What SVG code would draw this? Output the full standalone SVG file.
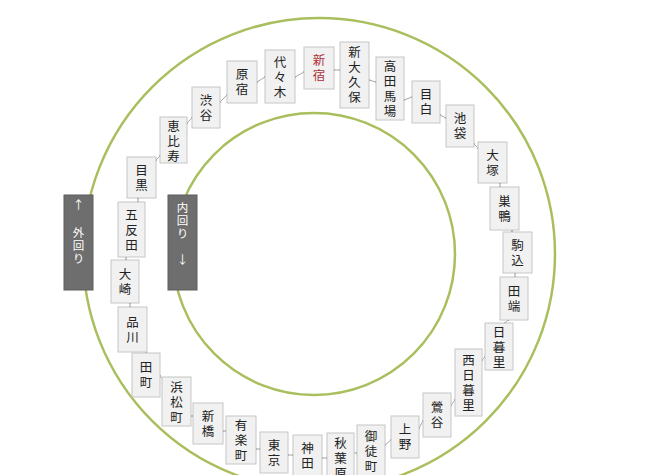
<svg xmlns="http://www.w3.org/2000/svg" width="647" height="475" viewBox="0 0 647 475">
<defs>
<marker id="dot" viewBox="0 0 4 4" refX="2" refY="2" markerWidth="3" markerHeight="3" markerUnits="userSpaceOnUse"><circle cx="2" cy="2" r="1.6" fill="#a0a0a0"/></marker>
<style>
.ring{fill:none;stroke:#a9bf5e;stroke-width:2.5}
.st rect{fill:#f1f1f1;stroke:#c6c6c6;stroke-width:1}
.st text{font-family:"Noto Sans CJK JP","Noto Sans CJK SC",sans-serif;font-size:12.5px;fill:#222;text-anchor:middle;writing-mode:vertical-rl;letter-spacing:2.5px}
.st text.red{fill:#b0303a}
.dir rect{fill:#6e6e6e;stroke:#5c5c5c;stroke-width:1}
.dir text{font-family:"Noto Sans CJK JP","Noto Sans CJK SC",sans-serif;font-size:11.5px;fill:#fff;text-anchor:middle}
.dir text.v{writing-mode:vertical-rl;letter-spacing:1.5px}
#connectors line{stroke:#a8a8a8;stroke-width:1;marker-start:url(#dot);marker-end:url(#dot)}
</style>
</defs>
<rect width="647" height="475" fill="#fff"/>
<circle class="ring" cx="319" cy="254" r="236"/>
<circle class="ring" cx="314" cy="254" r="141"/>

<g id="connectors">
<line x1="334" y1="70" x2="340" y2="70"/>
<line x1="295" y1="77" x2="304" y2="72"/>
<line x1="257" y1="82" x2="265" y2="77"/>
<line x1="220" y1="102" x2="227" y2="95"/>
<line x1="187" y1="123" x2="192" y2="118"/>
<line x1="156" y1="160" x2="160" y2="156"/>
<line x1="138" y1="198" x2="138" y2="202"/>
<line x1="126" y1="257" x2="126" y2="260"/>
<line x1="130" y1="303" x2="130" y2="307"/>
<line x1="146" y1="352" x2="146" y2="354"/>
<line x1="160" y1="376" x2="164" y2="381"/>
<line x1="191" y1="416" x2="193" y2="416"/>
<line x1="223" y1="431" x2="226" y2="431"/>
<line x1="256" y1="449" x2="260" y2="449"/>
<line x1="288" y1="455" x2="293" y2="455"/>
<line x1="322" y1="458" x2="327" y2="458"/>
<line x1="353" y1="453" x2="357" y2="453"/>
<line x1="385" y1="445" x2="391" y2="440"/>
<line x1="419" y1="428" x2="423" y2="421"/>
<line x1="451" y1="405" x2="455" y2="400"/>
<line x1="482" y1="360" x2="485" y2="357"/>
<line x1="508" y1="320" x2="505" y2="323"/>
<line x1="515" y1="273" x2="515" y2="277"/>
<line x1="512" y1="230" x2="512" y2="232"/>
<line x1="500" y1="183" x2="500" y2="187"/>
<line x1="474" y1="144" x2="478" y2="148"/>
<line x1="440" y1="115" x2="446" y2="118"/>
<line x1="404" y1="100" x2="412" y2="97"/>
<line x1="369" y1="80" x2="376" y2="82"/>
</g>

<g id="n-shinjuku" class="st"><rect x="304" y="47" width="30" height="42"/><text class="red" x="319" y="69">新宿</text></g>
<g id="n-shinokubo" class="st"><rect x="340" y="42" width="29" height="66"/><text x="354.5" y="76">新大久保</text></g>
<g id="n-takadanobaba" class="st"><rect x="376" y="57" width="28" height="63"/><text x="390" y="90">高田馬場</text></g>
<g id="n-mejiro" class="st"><rect x="412" y="81" width="28" height="42"/><text x="426" y="103">目白</text></g>
<g id="n-ikebukuro" class="st"><rect x="446" y="105" width="28" height="42"/><text x="460" y="127">池袋</text></g>
<g id="n-otsuka" class="st"><rect x="478" y="142" width="29" height="41"/><text x="492.5" y="164">大塚</text></g>
<g id="n-sugamo" class="st"><rect x="490" y="187" width="29" height="43"/><text x="504.5" y="210">巣鴨</text></g>
<g id="n-komagome" class="st"><rect x="503" y="232" width="29" height="41"/><text x="517.5" y="254">駒込</text></g>
<g id="n-tabata" class="st"><rect x="500" y="277" width="28" height="43"/><text x="514" y="300">田端</text></g>
<g id="n-nippori" class="st"><rect x="485" y="323" width="28" height="47"/><text x="499" y="348">日暮里</text></g>
<g id="n-nishinippori" class="st"><rect x="455" y="349" width="27" height="67"/><text x="468.5" y="384">西日暮里</text></g>
<g id="n-uguisudani" class="st"><rect x="423" y="393" width="28" height="44"/><text x="437" y="416">鶯谷</text></g>
<g id="n-ueno" class="st"><rect x="391" y="416" width="28" height="42"/><text x="405" y="438">上野</text></g>
<g id="n-okachimachi" class="st"><rect x="357" y="425" width="28" height="52"/><text x="371" y="452">御徒町</text></g>
<g id="n-akihabara" class="st"><rect x="327" y="433" width="27" height="50"/><text x="340.5" y="459">秋葉原</text></g>
<g id="n-kanda" class="st"><rect x="293" y="435" width="29" height="42"/><text x="307.5" y="457">神田</text></g>
<g id="n-tokyo" class="st"><rect x="260" y="432" width="28" height="41"/><text x="274" y="454">東京</text></g>
<g id="n-yurakucho" class="st"><rect x="226" y="416" width="30" height="48"/><text x="241" y="441">有楽町</text></g>
<g id="n-shimbashi" class="st"><rect x="193" y="403" width="30" height="41"/><text x="208" y="425">新橋</text></g>
<g id="n-hamamatsucho" class="st"><rect x="162" y="377" width="29" height="49"/><text x="176.5" y="403">浜松町</text></g>
<g id="n-tamachi" class="st"><rect x="132" y="353" width="28" height="44"/><text x="146" y="376">田町</text></g>
<g id="n-shinagawa" class="st"><rect x="118" y="307" width="29" height="45"/><text x="132.5" y="331">品川</text></g>
<g id="n-osaki" class="st"><rect x="111" y="260" width="28" height="43"/><text x="125" y="283">大崎</text></g>
<g id="n-gotanda" class="st"><rect x="118" y="202" width="27" height="55"/><text x="131.5" y="231">五反田</text></g>
<g id="n-meguro" class="st"><rect x="127" y="157" width="29" height="41"/><text x="141.5" y="179">目黒</text></g>
<g id="n-ebisu" class="st"><rect x="160" y="117" width="27" height="46"/><text x="173.5" y="142">恵比寿</text></g>
<g id="n-shibuya" class="st"><rect x="192" y="87" width="28" height="41"/><text x="206" y="109">渋谷</text></g>
<g id="n-harajuku" class="st"><rect x="227" y="61" width="30" height="42"/><text x="242" y="83">原宿</text></g>
<g id="n-yoyogi" class="st"><rect x="265" y="50" width="30" height="53"/><text x="280" y="78">代々木</text></g>

<g id="n-sotomawari" class="dir"><rect x="64" y="195" width="29" height="95"/><text x="78.5" y="209">↑</text><text class="v" x="78.5" y="246">外回り</text></g>
<g id="n-uchimawari" class="dir"><rect x="168" y="195" width="29" height="95"/><text class="v" x="182.5" y="221">内回り</text><text x="182.5" y="264">↓</text></g>
</svg>
